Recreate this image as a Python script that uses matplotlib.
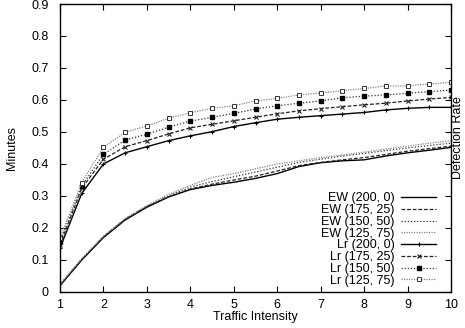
import matplotlib
matplotlib.use("Agg")
import matplotlib.pyplot as plt
from matplotlib.ticker import FuncFormatter

plt.rcParams['font.family'] = ['Liberation Sans', 'DejaVu Sans']

# traffic intensity sampled every 0.5
x = [1, 1.5, 2, 2.5, 3, 3.5, 4, 4.5, 5, 5.5, 6, 6.5, 7, 7.5, 8, 8.5, 9, 9.5, 10]

ew_200_0 = [0.020, 0.100, 0.170, 0.225, 0.265, 0.297, 0.320, 0.333, 0.343, 0.355,
            0.370, 0.392, 0.404, 0.410, 0.413, 0.425, 0.435, 0.443, 0.452]
ew_175_25 = [0.020, 0.100, 0.172, 0.227, 0.267, 0.298, 0.322, 0.337, 0.350, 0.362,
             0.378, 0.395, 0.405, 0.413, 0.420, 0.430, 0.440, 0.448, 0.456]
ew_150_50 = [0.022, 0.102, 0.173, 0.228, 0.268, 0.300, 0.328, 0.345, 0.360, 0.375,
             0.390, 0.405, 0.415, 0.425, 0.433, 0.442, 0.450, 0.458, 0.465]
ew_125_75 = [0.025, 0.105, 0.175, 0.230, 0.270, 0.305, 0.333, 0.358, 0.370, 0.385,
             0.400, 0.410, 0.420, 0.428, 0.437, 0.447, 0.456, 0.465, 0.473]

lr_200_0 = [0.137, 0.308, 0.400, 0.435, 0.454, 0.473, 0.488, 0.501, 0.517, 0.529,
            0.540, 0.546, 0.551, 0.556, 0.561, 0.569, 0.574, 0.577, 0.577]
lr_175_25 = [0.147, 0.324, 0.415, 0.454, 0.473, 0.494, 0.513, 0.524, 0.535, 0.546,
             0.557, 0.566, 0.573, 0.579, 0.585, 0.590, 0.597, 0.603, 0.608]
lr_150_50 = [0.157, 0.331, 0.430, 0.475, 0.493, 0.515, 0.534, 0.546, 0.558, 0.572,
             0.582, 0.590, 0.597, 0.607, 0.612, 0.616, 0.621, 0.626, 0.631]
lr_125_75 = [0.168, 0.342, 0.452, 0.499, 0.519, 0.543, 0.560, 0.574, 0.582, 0.597,
             0.605, 0.616, 0.622, 0.629, 0.636, 0.644, 0.644, 0.650, 0.655]

xticks = [1, 2, 3, 4, 5, 6, 7, 8, 9, 10]
yticks = [0, 0.1, 0.2, 0.3, 0.4, 0.5, 0.6, 0.7, 0.8, 0.9]

fig = plt.figure(figsize=(4.65, 3.28), dpi=100)
ax = fig.add_axes([0.129, 0.1098, 0.841, 0.878])

ax.plot(x, ew_200_0, color='black', lw=1.0, ls='-', label='EW (200, 0)')
ax.plot(x, ew_175_25, color='#222222', lw=0.9, ls=(0, (3, 1.5)), label='EW (175, 25)')
ax.plot(x, ew_150_50, color='#333333', lw=0.9, ls=(0, (1, 1.5)), label='EW (150, 50)')
ax.plot(x, ew_125_75, color='#888888', lw=0.9, ls=(0, (1, 1)), label='EW (125, 75)')

ax.plot(x, lr_200_0, color='black', lw=1.0, ls='-', marker='+', ms=3.5, mew=0.8,
        label='Lr (200, 0)')
ax.plot(x, lr_175_25, color='#222222', lw=0.9, ls=(0, (3, 1.5)), marker='x', ms=3,
        mew=0.8, label='Lr (175, 25)')
ax.plot(x, lr_150_50, color='#333333', lw=0.9, ls=(0, (1, 1.5)), marker='s', ms=2.5,
        mfc='black', mec='black', label='Lr (150, 50)')
ax.plot(x, lr_125_75, color='#888888', lw=0.9, ls=(0, (1, 1)), marker='s', ms=3.5,
        mfc='white', mec='#333333', mew=0.7, label='Lr (125, 75)')

ax.set_xlim(1, 10)
ax.set_ylim(0, 0.9)
ax.set_xticks(xticks)
ax.set_yticks(yticks)
ax.yaxis.set_major_formatter(FuncFormatter(lambda v, p: '%g' % round(v, 2)))
ax.tick_params(direction='in', length=4, width=0.8, labelsize=9,
               top=True, right=True)
ax.tick_params(axis='y', pad=8)
ax.tick_params(axis='x', pad=5)
for s in ax.spines.values():
    s.set_linewidth(1.0)

ax.set_xlabel('Traffic Intensity', fontsize=9, labelpad=0)
ax.set_ylabel('Minutes', fontsize=9, labelpad=10)
ax.text(1.003, 0.535, 'Defection Rate', transform=ax.transAxes, rotation=90,
        ha='left', va='center', fontsize=9)

leg = ax.legend(loc='lower right', bbox_to_anchor=(0.985, -0.012), frameon=False,
                markerfirst=False, fontsize=9, labelspacing=-0.02,
                handlelength=2.8, handletextpad=0.55, borderpad=0.2)

fig.savefig('out.png', dpi=100)
